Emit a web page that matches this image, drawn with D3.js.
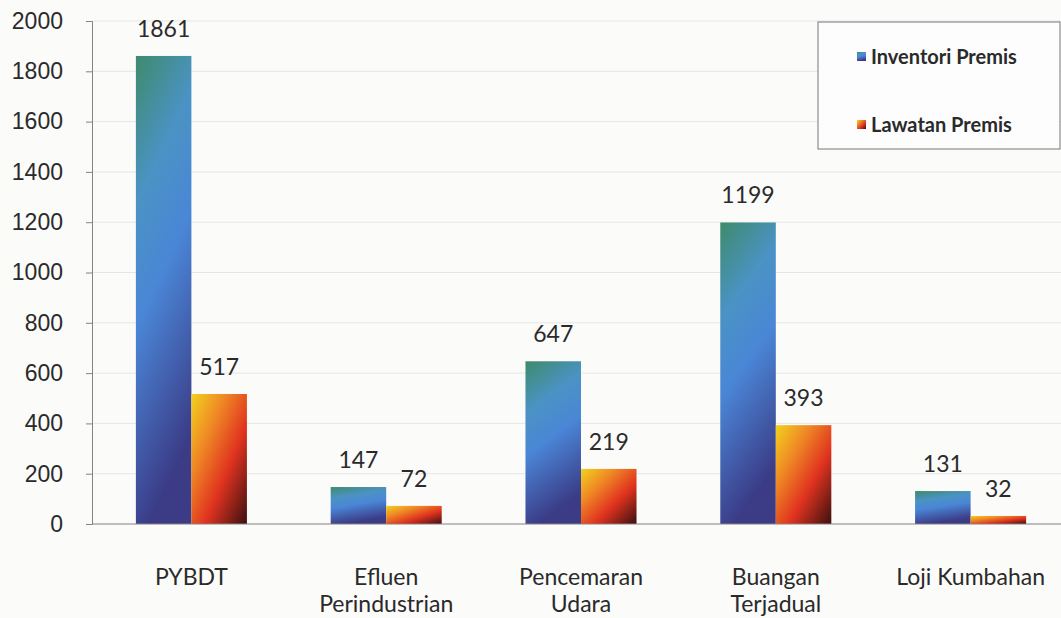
<!DOCTYPE html>
<html>
<head>
<meta charset="utf-8">
<script src="https://cdn.jsdelivr.net/npm/d3@7"></script>
<style>
body { margin: 0; background: #fbfbfa; }
svg { display: block; font-family: Lato, "Open Sans", sans-serif; }
</style>
</head>
<body>
<script>
var categories = [["PYBDT"], ["Efluen", "Perindustrian"], ["Pencemaran", "Udara"], ["Buangan", "Terjadual"], ["Loji Kumbahan"]];
var inventori = [1861, 147, 647, 1199, 131];
var lawatan = [517, 72, 219, 393, 32];
var seriesNames = ["Inventori Premis", "Lawatan Premis"];
var yTicks = [0, 200, 400, 600, 800, 1000, 1200, 1400, 1600, 1800, 2000];

var width = 1061, height = 618;
var margin = {top: 21, left: 92, bottom: 94};

var svg = d3.select("body").append("svg")
    .attr("width", width)
    .attr("height", height);

var defs = svg.append("defs");
var gBlue = defs.append("linearGradient").attr("id", "gBlue")
    .attr("x1", 0).attr("y1", 0).attr("x2", 0.25).attr("y2", 1);
gBlue.append("stop").attr("offset", "0%").attr("stop-color", "#3f8a6c");
gBlue.append("stop").attr("offset", "30%").attr("stop-color", "#4a93c4");
gBlue.append("stop").attr("offset", "55%").attr("stop-color", "#4a86d6");
gBlue.append("stop").attr("offset", "100%").attr("stop-color", "#3b3b86");

var gRed = defs.append("linearGradient").attr("id", "gRed")
    .attr("x1", 0).attr("y1", 0).attr("x2", 1).attr("y2", 1);
gRed.append("stop").attr("offset", "0%").attr("stop-color", "#f2d21e");
gRed.append("stop").attr("offset", "30%").attr("stop-color", "#ef8a25");
gRed.append("stop").attr("offset", "62%").attr("stop-color", "#e0331f");
gRed.append("stop").attr("offset", "100%").attr("stop-color", "#3a1010");

var y = d3.scaleLinear()
    .domain([0, 2000])
    .range([height - margin.bottom, margin.top]);

var x = d3.scaleBand()
    .domain(d3.range(categories.length))
    .range([margin.left + 2, margin.left + 976])
    .paddingInner(0.43)
    .paddingOuter(0.215);

var x1 = d3.scaleBand()
    .domain([0, 1])
    .range([0, x.bandwidth()]);

// grid lines
svg.append("g")
    .selectAll("line")
    .data(yTicks.slice(1))
    .enter().append("line")
    .attr("x1", margin.left).attr("x2", width)
    .attr("y1", d => y(d)).attr("y2", d => y(d))
    .attr("stroke", "#e6e6e6")
    .attr("stroke-width", 1);

var yAxis = svg.append("g")
    .attr("transform", "translate(" + margin.left + ",0)")
    .call(d3.axisLeft(y).tickValues(yTicks).tickFormat(d3.format("d")).tickSize(6).tickPadding(23));
yAxis.select(".domain").attr("stroke", "#8a8080");
yAxis.selectAll(".tick line").attr("stroke", "#8a8080");
yAxis.selectAll(".tick text")
    .attr("fill", "#2a2a2a")
    .style("font-size", "23px");

var groups = svg.append("g")
    .selectAll("g")
    .data(categories)
    .enter().append("g")
    .attr("transform", (d, i) => "translate(" + x(i) + ",0)");

groups.append("rect")
    .attr("x", x1(0))
    .attr("y", (d, i) => y(inventori[i]))
    .attr("width", x1.bandwidth())
    .attr("height", (d, i) => y(0) - y(inventori[i]))
    .attr("fill", "url(#gBlue)");

groups.append("rect")
    .attr("x", x1(1))
    .attr("y", (d, i) => y(lawatan[i]))
    .attr("width", x1.bandwidth())
    .attr("height", (d, i) => y(0) - y(lawatan[i]))
    .attr("fill", "url(#gRed)");

groups.append("text")
    .attr("x", x1(0) + x1.bandwidth() / 2)
    .attr("y", (d, i) => y(inventori[i]) - 19)
    .attr("text-anchor", "middle")
    .attr("fill", "#2a2a2a")
    .style("font-size", "23px")
    .text((d, i) => inventori[i]);

groups.append("text")
    .attr("x", x1(1) + x1.bandwidth() / 2)
    .attr("y", (d, i) => y(lawatan[i]) - 19)
    .attr("text-anchor", "middle")
    .attr("fill", "#2a2a2a")
    .style("font-size", "23px")
    .text((d, i) => lawatan[i]);

// baseline
svg.append("line")
    .attr("x1", margin.left).attr("x2", width)
    .attr("y1", y(0)).attr("y2", y(0))
    .attr("stroke", "#8a8080")
    .attr("stroke-width", 1.2);

// category labels
groups.append("text")
    .attr("text-anchor", "middle")
    .attr("x", x.bandwidth() / 2)
    .attr("fill", "#2a2a2a")
    .style("font-size", "23px")
    .selectAll("tspan")
    .data(d => d)
    .enter().append("tspan")
    .attr("x", x.bandwidth() / 2)
    .attr("y", (d, j) => y(0) + 61 + j * 27)
    .text(d => d);

// legend
var legend = svg.append("g");
legend.append("rect")
    .attr("x", 818).attr("y", 22)
    .attr("width", 242).attr("height", 127)
    .attr("fill", "#fdfdfd")
    .attr("stroke", "#777")
    .attr("stroke-width", 1);

var legendY = [57, 125];
seriesNames.forEach(function(name, i) {
    legend.append("rect")
        .attr("x", 857).attr("y", legendY[i] - 5)
        .attr("width", 9).attr("height", 9)
        .attr("fill", i === 0 ? "url(#gBlue)" : "url(#gRed)");
    legend.append("text")
        .attr("x", 871).attr("y", legendY[i])
        .attr("dy", "0.35em")
        .attr("fill", "#2a2a2a")
        .style("font-size", "20px")
        .style("font-weight", "bold")
        .text(name);
});
</script>
</body>
</html>
